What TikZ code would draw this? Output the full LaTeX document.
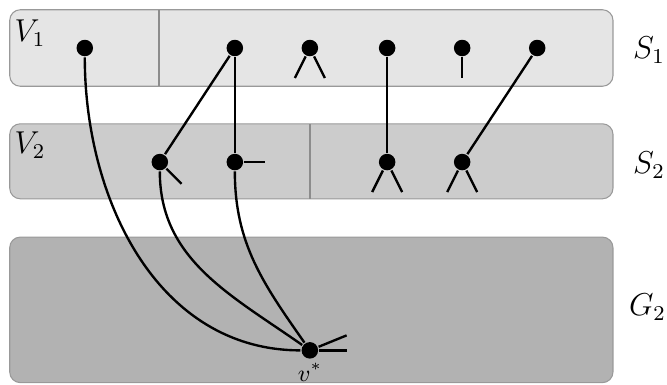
\documentclass[tikz,border=0pt]{standalone}
\begin{document}
\begin{tikzpicture}[line width=0.9pt,
  vtx/.style={circle,fill=black,inner sep=0pt,minimum size=2.2mm},
  band/.style={draw=black!40,line width=0.4pt,rounded corners=4pt},
  cut/.style={draw=black!45,line width=0.8pt},
  tag/.style={font=\large}]
\useasboundingbox (-0.13,0) rectangle (8.76,5.12);
% the three layers
\draw[band,fill=black!10] (0,3.97) rectangle (8.04,4.99);
\draw[band,fill=black!20] (0,2.47) rectangle (8.04,3.47);
\draw[band,fill=black!30] (0,0.02) rectangle (8.04,1.96);
\draw[cut] (1.99,3.97) -- (1.99,4.99);
\draw[cut] (4,2.47) -- (4,3.47);
\node[tag] (v1) at (0.27,4.68) {$V_1$};
\node[tag] (v2) at (0.27,3.18) {$V_2$};
\node[tag] (s1) at (8.52,4.45) {$S_1$};
\node[tag] (s2) at (8.52,2.92) {$S_2$};
\node[tag] (g2) at (8.5,1.03) {$G_2$};
% vertices
\node[vtx] (p1) at (1,4.48) {};
\node[vtx] (p3) at (3,4.48) {};
\node[vtx] (p4) at (4,4.48) {};
\node[vtx] (p5) at (5.03,4.48) {};
\node[vtx] (p6) at (6.03,4.48) {};
\node[vtx] (p7) at (7.03,4.48) {};
\node[vtx] (q2) at (2,2.96) {};
\node[vtx] (q3) at (3,2.96) {};
\node[vtx] (q5) at (5.03,2.96) {};
\node[vtx] (q6) at (6.03,2.96) {};
\node[vtx,label={[font=\small,inner sep=1pt]below:$v^*$}] (vs) at (4,0.45) {};
% loose ends
\coordinate (p4l) at (3.8,4.08);
\coordinate (p4r) at (4.2,4.08);
\coordinate (p6d) at (6.03,4.08);
\coordinate (q2d) at (2.29,2.67);
\coordinate (q3r) at (3.4,2.96);
\coordinate (q5l) at (4.83,2.56);
\coordinate (q5r) at (5.23,2.56);
\coordinate (q6l) at (5.83,2.56);
\coordinate (q6r) at (6.23,2.56);
\coordinate (vsa) at (4.49,0.65);
\coordinate (vsb) at (4.49,0.45);
% edges
\path (p3) edge (q2);
\path (p3) edge (q3);
\path (p5) edge (q5);
\path (p7) edge (q6);
\path (p1) edge [out=-90,in=180] (vs);
\path (q2) edge [out=-90,in=145] (vs);
\path (q3) edge [out=-90,in=125] (vs);
\path (p4) edge (p4l) edge (p4r);
\path (p6) edge (p6d);
\path (q2) edge (q2d);
\path (q3) edge (q3r);
\path (q5) edge (q5l) edge (q5r);
\path (q6) edge (q6l) edge (q6r);
\path (vs) edge (vsa) edge (vsb);
\end{tikzpicture}
\end{document}
